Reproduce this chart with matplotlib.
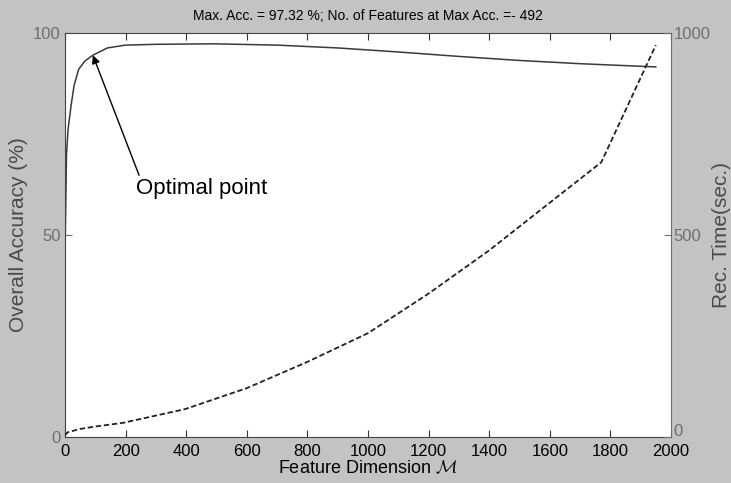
import matplotlib.pyplot as plt
import matplotlib.transforms as mtransforms

plt.rcParams['font.family'] = ['Liberation Sans', 'DejaVu Sans']
plt.rcParams['mathtext.fontset'] = 'cm'

# accuracy vs feature dimension
feat_acc = [0, 5, 10, 20, 30, 45, 65, 92, 140, 200, 300, 492, 700, 900, 1100, 1300, 1500, 1700, 1950]
accuracy = [45, 70, 76, 82, 87, 91, 93, 94.5, 96.3, 97.0, 97.2, 97.32, 97.0, 96.3, 95.3, 94.2, 93.2, 92.4, 91.6]

# recognition time vs feature dimension
feat_time = [0, 10, 50, 100, 191, 396, 600, 800, 1000, 1200, 1400, 1600, 1770, 1950]
rec_time = [5, 12, 20, 26, 35, 69, 121, 186, 257, 355, 462, 580, 680, 970]

opt_x = 92
opt_y = 94.5

bg = '#c3c3c3'
grey = '#6e6e6e'

fig = plt.figure(figsize=(7.31, 4.83), dpi=100, facecolor=bg)
ax = fig.add_axes([0.0889, 0.0952, 0.829, 0.8365])
ax.set_facecolor('white')

ax.plot(feat_acc, accuracy, color='#3a3a3a', lw=1.1)
ax.set_xlim(0, 2000)
ax.set_ylim(0, 100)
ax.set_xticks(range(0, 2001, 200))
ax.set_yticks([0, 50, 100])
ax.tick_params(axis='x', direction='in', top=True, length=5, labelsize=12, pad=5, color='#333333')
ax.tick_params(axis='y', direction='in', length=5, labelsize=12, labelcolor=grey, color=grey, pad=3)
for s in ['left', 'bottom', 'top']:
    ax.spines[s].set_color('#444444')
ax.spines['right'].set_color(grey)

ax.set_xlabel(r'Feature Dimension $\mathcal{M}$', fontsize=13, labelpad=1)
ax.set_ylabel('Overall Accuracy (%)', fontsize=15, color='#4a4a4a', labelpad=4)
ax.set_title('Max. Acc. = 97.32 %; No. of Features at Max Acc. =- 492', fontsize=10, pad=9)

ax.annotate('Optimal point', xy=(opt_x, opt_y), xytext=(235, 61.5),
            fontsize=16, ha='left', va='center',
            arrowprops=dict(arrowstyle='-|>', color='black', lw=1.0,
                            mutation_scale=12, shrinkA=0, shrinkB=0,
                            relpos=(0.03, 1.0)))

ax2 = ax.twinx()
ax2.plot(feat_time, rec_time, color='#222222', lw=1.3, ls=(0, (3, 1.5)))
ax2.set_ylim(0, 1000)
ax2.set_yticks([0, 500, 1000])
ax2.tick_params(axis='y', direction='in', length=5, labelsize=12, labelcolor=grey, color=grey, pad=2)
ax2.set_ylabel('Rec. Time(sec.)', fontsize=15, color='#4a4a4a', labelpad=1)
for s in ax2.spines.values():
    s.set_visible(False)

# lift the bottom right tick label clear of the x tick labels
fig.canvas.draw()
lift = mtransforms.ScaledTranslation(0, 5 / 72, fig.dpi_scale_trans)
lbl0 = ax2.get_yticklabels()[0]
lbl0.set_transform(lbl0.get_transform() + lift)

fig.savefig('out.png', dpi=100, facecolor=bg)
